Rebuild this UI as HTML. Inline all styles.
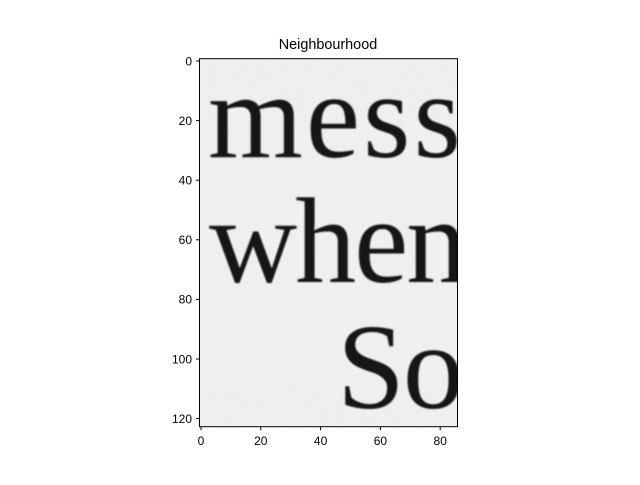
<!DOCTYPE html>
<html><head><meta charset="utf-8"><style>
html,body{margin:0;padding:0;background:#fff;}
svg text{font-family:"Liberation Sans",sans-serif;}
</style></head><body>
<svg id="chart" width="640" height="480" viewBox="0 0 640 480" xmlns="http://www.w3.org/2000/svg">
<defs>
<clipPath id="ax"><rect x="199.5" y="58.7" width="258" height="368"/></clipPath>
<filter id="blur"><feGaussianBlur stdDeviation="0.9"/></filter>
<filter id="noise"><feTurbulence type="fractalNoise" baseFrequency="0.25" numOctaves="2" seed="3"/><feColorMatrix type="matrix" values="0 0 0 0 0.93  0 0 0 0 0.93  0 0 0 0 0.93  0 0 0 -0.12 0.12"/></filter>
</defs>
<text x="328" y="49" font-size="14.4" text-anchor="middle">Neighbourhood</text>
<g clip-path="url(#ax)">
<rect x="199.5" y="58.7" width="258" height="368" fill="#efefef"/>
<rect x="199.5" y="58.7" width="258" height="368" fill="#000" filter="url(#noise)" opacity="0.5"/>
<g filter="url(#blur)" fill="#181818">
<text x="208" y="157" font-size="122" style="font-family:'Liberation Serif',serif" letter-spacing="3">mess</text>
<text x="209" y="282" font-size="122" style="font-family:'Liberation Serif',serif" letter-spacing="-2">when</text>
<text x="337" y="408" font-size="122" style="font-family:'Liberation Serif',serif" letter-spacing="-2">So</text>
</g>
</g>
<rect x="199.5" y="58.7" width="258" height="368" fill="none" stroke="#000" stroke-width="1"/>
<g id="ticks"></g>
<script>
const xTicks=[0,20,40,60,80];
const yTicks=[0,20,40,60,80,100,120];
const x0=201,y0=61,sx=2.99,sy=2.98;
const X=v=>x0+v*sx, Y=v=>y0+v*sy;
const g=document.getElementById('ticks');
const NS='http://www.w3.org/2000/svg';
xTicks.forEach(v=>{
 const l=document.createElementNS(NS,'line');
 l.setAttribute('x1',X(v));l.setAttribute('x2',X(v));l.setAttribute('y1',426.7);l.setAttribute('y2',430.2);l.setAttribute('stroke','#000');
 
 
 g.appendChild(l);
 const t=document.createElementNS(NS,'text');
 t.setAttribute('x',X(v));t.setAttribute('y',445);t.setAttribute('font-size','12');t.setAttribute('text-anchor','middle');t.textContent=v;
 
 
 g.appendChild(t);
});
yTicks.forEach(v=>{
 const l=document.createElementNS(NS,'line');
 l.setAttribute('x1',196);l.setAttribute('x2',199.5);l.setAttribute('y1',Y(v));l.setAttribute('y2',Y(v));l.setAttribute('stroke','#000');
 
 
 g.appendChild(l);
 const t=document.createElementNS(NS,'text');
 t.setAttribute('x',192);t.setAttribute('y',Y(v)+4.3);t.setAttribute('font-size','12');t.setAttribute('text-anchor','end');t.textContent=v;
 
 
 g.appendChild(t);
});
</script>
</svg>
</body></html>
